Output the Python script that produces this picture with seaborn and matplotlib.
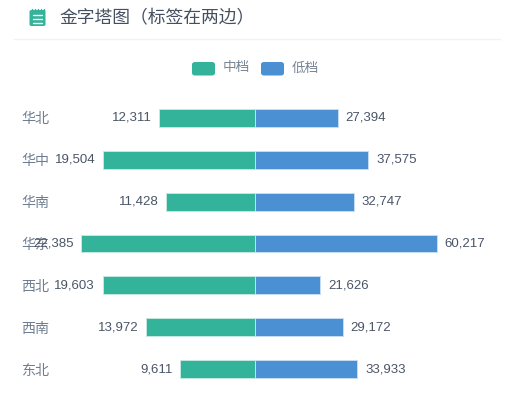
import seaborn as sns
import pandas as pd
import matplotlib.pyplot as plt
from matplotlib.patches import FancyBboxPatch
from matplotlib.lines import Line2D

regions = ["华北", "华中", "华南", "华东", "西北", "西南", "东北"]
mid_values = [12311, 19504, 11428, 22385, 19603, 13972, 9611]
low_values = [27394, 37575, 32747, 60217, 21626, 29172, 33933]

W, H = 517, 393
TEAL = "#34B39B"
BLUE = "#4A90D2"
CJK = ["Noto Sans CJK SC", "DejaVu Sans"]
NUM = ["Liberation Sans", "Noto Sans CJK SC"]

sns.set_theme(style="white")
plt.rcParams["font.family"] = CJK


def box(x0, y0, x1, y1):
    # pixel box (top-left origin) to figure fractions
    return [x0 / W, 1 - y1 / H, (x1 - x0) / W, (y1 - y0) / H]


df = pd.DataFrame({"region": regions, "mid": mid_values, "low": low_values})

fig = plt.figure(figsize=(W / 100, H / 100), dpi=100, facecolor="white")
ax_l = fig.add_axes(box(49.5, 97, 255, 390))
ax_r = fig.add_axes(box(255, 97, 496.5, 390))

sns.barplot(data=df, y="region", x="mid", ax=ax_l, color=TEAL, saturation=1,
            width=0.43, edgecolor="#C4E8E0", linewidth=0.7)
sns.barplot(data=df, y="region", x="low", ax=ax_r, color=BLUE, saturation=1,
            width=0.43, edgecolor="#C6DDF2", linewidth=0.7)

ax_l.set_xlim(26448, 0)
ax_r.set_xlim(0, 80000)

for ax in (ax_l, ax_r):
    ax.set_xlabel("")
    ax.set_ylabel("")
    ax.set_xticks([])
    ax.patch.set_alpha(0)
    sns.despine(ax=ax, left=True, bottom=True)

ax_r.set_yticks([])
ax_l.tick_params(axis="y", length=0, pad=0, labelsize=10.1, labelcolor="#6E7E92")

for i, v in enumerate(mid_values):
    ax_l.annotate(f"{v:,}", (v, i), xytext=(-5.5, 0), textcoords="offset points",
                  ha="right", va="center", fontsize=9.5, color="#4A5568", family=NUM)
for i, v in enumerate(low_values):
    ax_r.annotate(f"{v:,}", (v, i), xytext=(5.5, 0), textcoords="offset points",
                  ha="left", va="center", fontsize=9.5, color="#4A5568", family=NUM)

# header
fig.text(59.5 / W, 1 - 18.5 / H, "金字塔图（标签在两边）", fontsize=12.8, color="#44505F",
         ha="left", va="center")
fig.add_artist(Line2D([14 / W, 500 / W], [1 - 39 / H] * 2, color="#F1F2F4", lw=1))

# notebook icon
fig.add_artist(FancyBboxPatch((29.5 / W, 1 - 26 / H), 16 / W, 16 / H,
                              boxstyle="round,pad=0,rounding_size=0.004",
                              transform=fig.transFigure, fc=TEAL, ec="none"))
for y in (15, 19, 23):
    fig.add_artist(Line2D([33 / W, 42 / W], [1 - y / H] * 2, color="white", lw=1))
for x in (32, 35, 38, 41, 44):
    fig.add_artist(Line2D([x / W] * 2, [1 - 11 / H, 1 - 8.5 / H], color=TEAL, lw=1))

# legend
for x0, col, name in [(192, TEAL, "中档"), (261, BLUE, "低档")]:
    fig.add_artist(FancyBboxPatch((x0 / W, 1 - 75.5 / H), 23 / W, 13.5 / H,
                                  boxstyle="round,pad=0,rounding_size=0.006",
                                  mutation_aspect=1, transform=fig.transFigure,
                                  fc=col, ec="none"))
    fig.text((x0 + 31) / W, 1 - 67.5 / H, name, fontsize=9.8, color="#7A8797",
             ha="left", va="center")

fig.savefig("out.png", dpi=100)
